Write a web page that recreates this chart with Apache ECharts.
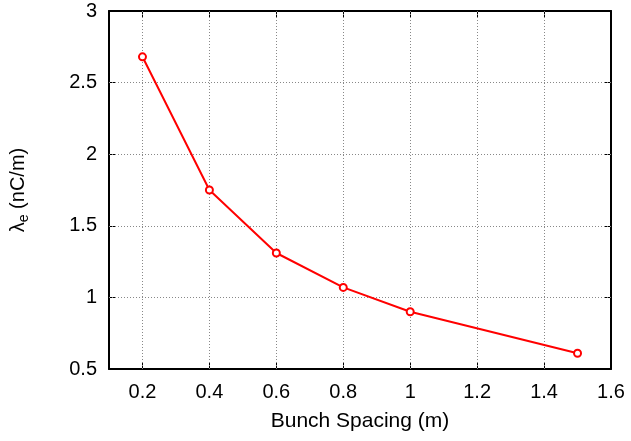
<!DOCTYPE html>
<html>
<head>
<meta charset="utf-8">
<script src="https://cdn.jsdelivr.net/npm/echarts@6/dist/echarts.min.js"></script>
<style>
  html, body { margin: 0; padding: 0; background: #fff; }
  #chart { width: 631px; height: 441px; }
</style>
</head>
<body>
<div id="chart"></div>
<script>
const spacing = [0.2, 0.4, 0.6, 0.8, 1.0, 1.5];
const lambdaE = [2.68, 1.75, 1.31, 1.07, 0.90, 0.61];
const xTicks = [0.2, 0.4, 0.6, 0.8, 1.0, 1.2, 1.4, 1.6];
const yGrid = [1.0, 1.5, 2.0, 2.5];

const font = 'Liberation Sans, Arial, Helvetica, sans-serif';
const chart = echarts.init(document.getElementById('chart'));

const frameLine = { show: true, lineStyle: { color: '#000', width: 2 } };
const tick = { show: true, inside: true, length: 6, lineStyle: { color: '#000', width: 1 } };

chart.setOption({
  animation: false,
  grid: { left: 107, right: 20, top: 11, bottom: 72 },
  xAxis: [{
    type: 'value',
    min: 0.1,
    max: 1.6,
    name: 'Bunch Spacing (m)',
    nameLocation: 'middle',
    nameGap: 42,
    nameTextStyle: { color: '#000', fontSize: 21, fontFamily: font },
    axisLabel: {
      color: '#000', fontSize: 20, fontFamily: font, margin: 13,
      customValues: xTicks,
      formatter: v => String(+v.toFixed(1))
    },
    axisTick: { ...tick, customValues: xTicks },
    axisLine: frameLine,
    splitLine: { show: false }
  }, {
    type: 'value',
    position: 'top',
    min: 0.1,
    max: 1.6,
    axisLabel: { show: false },
    axisTick: { ...tick, customValues: xTicks },
    axisLine: frameLine,
    splitLine: { show: false }
  }],
  yAxis: [{
    type: 'value',
    min: 0.5,
    max: 3,
    interval: 0.5,
    name: '{l|λ}{s|e}{l| (nC/m)}',
    nameLocation: 'middle',
    nameGap: 78,
    nameTextStyle: {
      color: '#000', fontFamily: font, fontSize: 20,
      rich: {
        l: { fontSize: 20, fontFamily: font, color: '#000' },
        s: { fontSize: 14, fontFamily: font, color: '#000', verticalAlign: 'bottom', padding: [12, 0, 0, 0] }
      }
    },
    axisLabel: { color: '#000', fontSize: 20, fontFamily: font, margin: 12 },
    axisTick: tick,
    axisLine: frameLine,
    splitLine: { show: false }
  }, {
    type: 'value',
    position: 'right',
    min: 0.5,
    max: 3,
    interval: 0.5,
    axisLabel: { show: false },
    axisTick: tick,
    axisLine: frameLine,
    splitLine: { show: false }
  }],
  series: [{
    type: 'line',
    data: spacing.map((x, i) => [x, lambdaE[i]]),
    lineStyle: { color: '#ff0000', width: 2 },
    itemStyle: { color: '#ff0000', borderColor: '#ff0000', borderWidth: 1.5 },
    symbol: 'emptyCircle',
    symbolSize: 7,
    z: 5,
    markLine: {
      silent: true,
      symbol: 'none',
      label: { show: false },
      lineStyle: { color: '#888', type: [1, 2], width: 1 },
      data: xTicks.slice(0, -1).map(v => ({ xAxis: v }))
        .concat(yGrid.map(v => ({ yAxis: v })))
    }
  }]
});
</script>
</body>
</html>
